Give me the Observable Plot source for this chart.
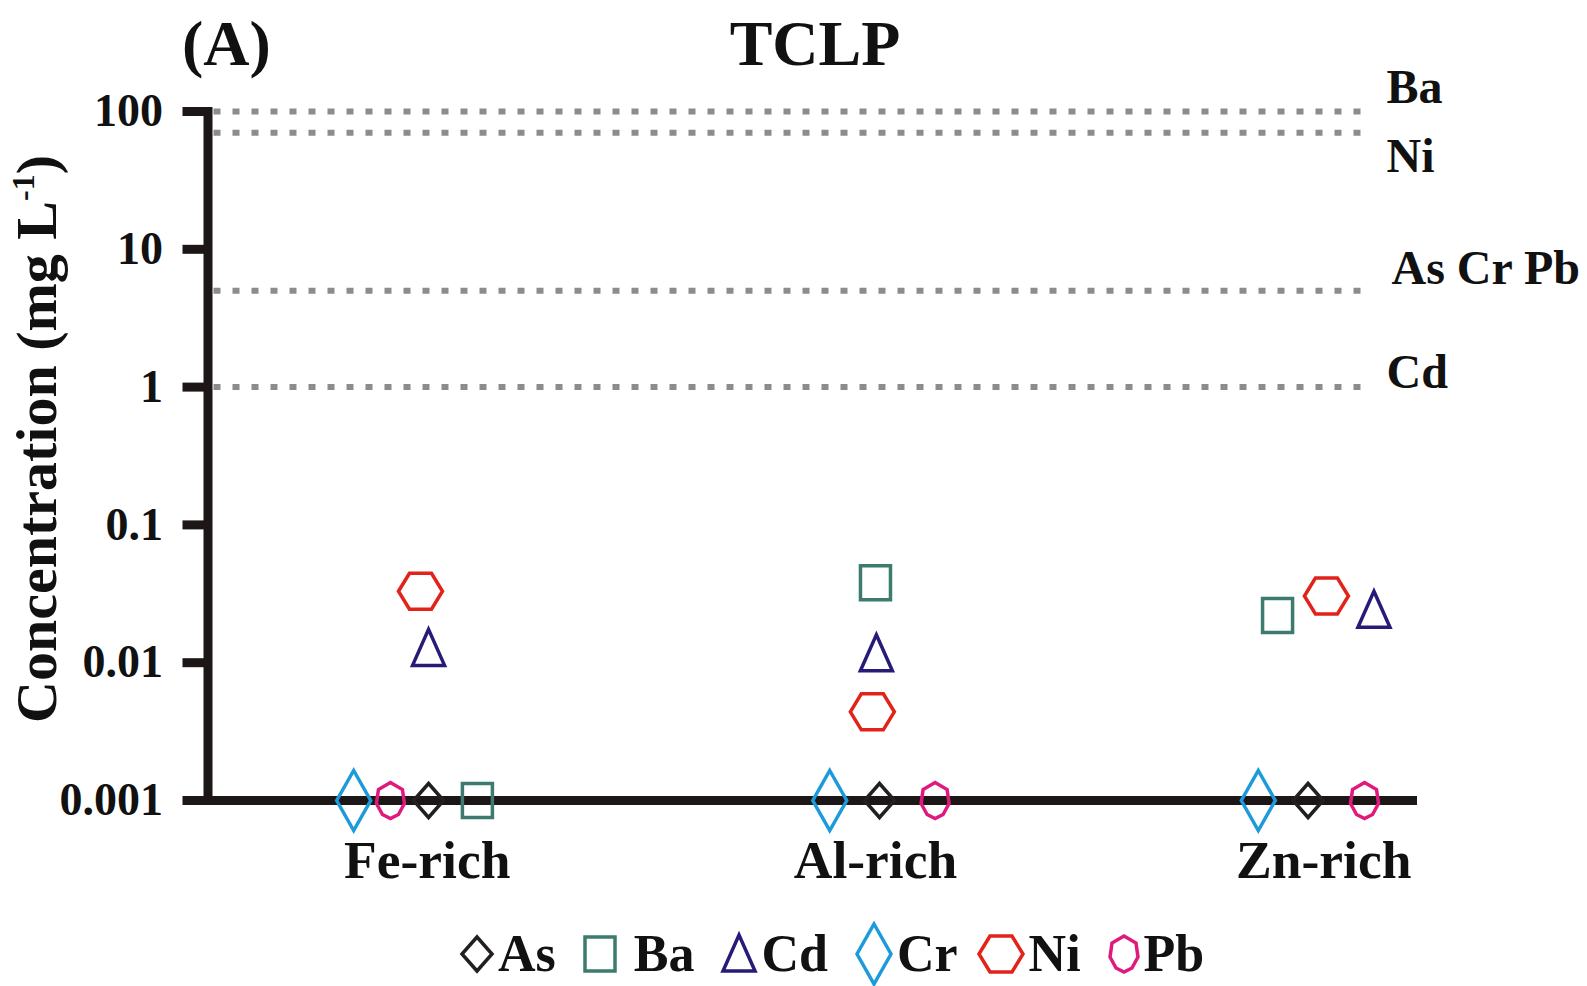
<!DOCTYPE html>
<html><head><meta charset="utf-8">
<script src="https://cdn.jsdelivr.net/npm/d3@7"></script>
<script src="https://cdn.jsdelivr.net/npm/@observablehq/plot@0.6"></script>
<style>
body{margin:0;background:#fff;}
#wrap{position:relative;width:1587px;height:986px;overflow:hidden;background:#fff;font-family:"Liberation Serif","Times New Roman",serif;font-weight:bold;color:#111;}
.title{position:absolute;font-size:64px;line-height:1;top:12px;white-space:nowrap;}
#tA{left:182px;}
#tT{left:815px;transform:translateX(-50%);}
#legend{position:absolute;top:930px;left:460px;height:48px;line-height:48px;display:flex;align-items:center;font-size:52px;}
.item{display:flex;align-items:center;margin-right:27px;height:48px;}
.item svg{overflow:visible;}
.item span{margin-left:4px;}
.item.Ba span{margin-left:17px;}
.item.Cr{margin-right:19px;}
</style></head>
<body><div id="wrap"><div id="chart"></div><div class="title" id="tA">(A)</div><div class="title" id="tT">TCLP</div><div id="legend"></div></div>
<script>
// ---- data ----
const categories = ["Fe-rich", "Al-rich", "Zn-rich"];
const elements = ["As", "Ba", "Cd", "Cr", "Ni", "Pb"];
const asValues = [0.001, 0.001, 0.001];
const baValues = [0.001, 0.038, 0.022];
const cdValues = [0.0127, 0.0116, 0.024];
const crValues = [0.001, 0.001, 0.001];
const niValues = [0.033, 0.0044, 0.0305];
const pbValues = [0.001, 0.001, 0.001];
// horizontal jitter within each category (category units)
const asJitter = [0.003, 0.009, -0.035];
const baJitter = [0.112, 0.0, -0.103];
const cdJitter = [0.003, 0.002, 0.112];
const crJitter = [-0.164, -0.102, -0.146];
const niJitter = [-0.015, -0.007, 0.006];
const pbJitter = [-0.082, 0.133, 0.091];
// regulatory limits
const limitLabels = ["Ba", "Ni", "As Cr Pb", "Cd"];
const limitValues = [100, 70, 5, 1];
const yTicks = [0.001, 0.01, 0.1, 1, 10, 100];
const yTickLabels = ["0.001", "0.01", "0.1", "1", "10", "100"];

const values = [asValues, baValues, cdValues, crValues, niValues, pbValues];
const jitters = [asJitter, baJitter, cdJitter, crJitter, niJitter, pbJitter];
const rows = elements.flatMap((el, e) => categories.map((c, i) => ({element: el, category: c, x: i + 1 + jitters[e][i], value: values[e][i]})));
const limits = limitLabels.map((l, i) => ({label: l, value: limitValues[i]}));

// ---- styles ----
function poly(points) {
  return {draw(ctx) { ctx.moveTo(points[0][0], points[0][1]); for (let k = 1; k < points.length; k++) ctx.lineTo(points[k][0], points[k][1]); ctx.closePath(); }};
}
const symbolOf = {
  As: poly([[0,-17],[15,0],[0,17],[-15,0]]),
  Ba: poly([[-15,-17],[15,-17],[15,17],[-15,17]]),
  Cd: poly([[0,-19],[16,17],[-16,17]]),
  Cr: poly([[0,-30],[17,0],[0,30],[-17,0]]),
  Ni: poly([[-22,0],[-11,-18],[11,-18],[22,0],[11,18],[-11,18]]),
  Pb: poly([[0,-18],[12,-11],[14,3],[8,14],[0,18],[-8,14],[-14,3],[-12,-11]])
};
const colorOf = {As:"#231f20", Ba:"#3d7b6f", Cd:"#261c78", Cr:"#1d9ad9", Ni:"#e2231a", Pb:"#e0197d"};
const boxW = {As:34, Ba:34, Cd:36, Cr:38, Ni:48, Pb:32};
const serif = "'Liberation Serif','Times New Roman',serif";

const labelMarks = [["Ba",-24,-26],["Ni",24,-26],["As Cr Pb",-22,-21],["Cd",-14,-26]].map(([lab, dy, dx]) =>
  Plot.text(limits.filter(d => d.label === lab), {y: "value", text: "label", frameAnchor: "right", textAnchor: "start", dx, dy, fontSize: 48, fill: "#111"}));

const plot = Plot.plot({
  width: 1587, height: 900,
  marginLeft: 207.5, marginRight: 175, marginTop: 111, marginBottom: 100,
  x: {domain: [0.511, 3.198]},
  y: {type: "log", domain: [0.001, 100]},
  style: {fontFamily: serif, fontWeight: "bold", background: "transparent", color: "#111", overflow: "visible"},
  marks: [
    Plot.ruleY(limits, {y: "value", stroke: "#8c8c8c", strokeWidth: 6, strokeDasharray: "7,12", insetLeft: 6, insetRight: 41}),
    ...labelMarks,
    Plot.frame({anchor: "left", stroke: "#1c1616", strokeWidth: 9, strokeLinecap: "square"}),
    Plot.frame({anchor: "bottom", stroke: "#1c1616", strokeWidth: 9, strokeLinecap: "square"}),
    Plot.axisY({ticks: yTicks, tickFormat: d => yTickLabels[yTicks.indexOf(d)], tickSize: 25, tickPadding: 20, strokeWidth: 9, stroke: "#1c1616", fontSize: 46, label: null}),
    Plot.axisX({ticks: [1, 2, 3], tickFormat: d => categories[d - 1], tickSize: 0, tickPadding: 39, fontSize: 53.5, label: null}),
    Plot.text(["Concentration (mg L-1)"], {text: d => d, frameAnchor: "left", textAnchor: "middle", rotate: -90, dx: -171, dy: -17, fontSize: 58}),
    ...elements.map(el => Plot.dot(rows.filter(d => d.element === el), {x: "x", y: "value", symbol: symbolOf[el], stroke: colorOf[el], strokeWidth: 3.5, fill: "none"}))
  ]
});
document.getElementById("chart").appendChild(plot);

// superscript on the y label
d3.select(plot).selectAll("text").filter(function() { return this.textContent === "Concentration (mg L-1)"; }).each(function() {
  const t = d3.select(this);
  t.text("Concentration (mg L");
  t.append("tspan").attr("dy", -22).attr("font-size", 32).text("-1");
  t.append("tspan").attr("dy", 22).text(")");
});

// legend
const legend = d3.select("#legend");
elements.forEach(el => {
  const item = legend.append("div").attr("class", "item " + el);
  const w = boxW[el], h = 44;
  const svg = item.append("svg").attr("width", w).attr("height", h).attr("viewBox", `${-w/2} ${-h/2} ${w} ${h}`);
  svg.append("path").attr("d", d3.symbol(symbolOf[el], 64)()).attr("fill", "none").attr("stroke", colorOf[el]).attr("stroke-width", 3.5);
  item.append("span").text(el);
});
</script>
</body></html>
